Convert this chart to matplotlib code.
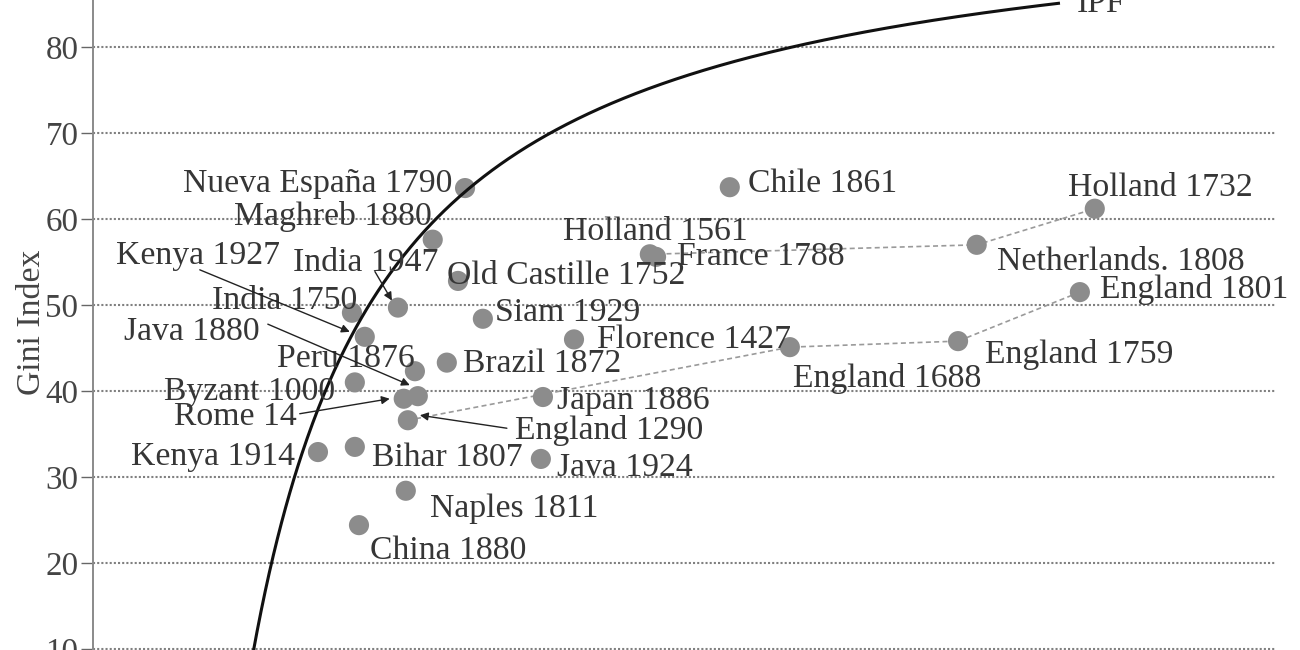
import numpy as np
import matplotlib
matplotlib.use("Agg")
import matplotlib.pyplot as plt
from matplotlib.transforms import Affine2D

# ---------------- data ----------------
labels = [
    "Nueva España 1790", "Maghreb 1880", "Chile 1861", "Holland 1732",
    "Netherlands. 1808", "Holland 1561", "France 1788", "England 1801",
    "England 1759", "England 1688", "Florence 1427", "Old Castille 1752",
    "India 1947", "Siam 1929", "India 1750", "Kenya 1927", "Java 1880",
    "Peru 1876", "Byzant 1000", "Rome 14", "England 1290", "Brazil 1872",
    "Japan 1886", "Kenya 1914", "Bihar 1807", "Java 1924", "Naples 1811",
    "China 1880",
]
income = [844, 766, 1483, 2364, 2079, 1290, 1305, 2328, 2034, 1628, 1107, 827,
          682, 887, 571, 602, 730, 723, 578, 696, 706, 800, 1032, 489, 578,
          1027, 701, 588]
gini = [63.6, 57.6, 63.7, 61.2, 57.0, 55.9, 55.6, 51.5, 45.8, 45.1, 46.0, 52.8,
        49.7, 48.4, 49.1, 46.3, 39.4, 42.3, 41.0, 39.1, 36.6, 43.3, 39.3, 32.9,
        33.5, 32.1, 28.4, 24.4]

holland_path = ["Holland 1561", "Netherlands. 1808", "Holland 1732"]
england_path = ["England 1290", "England 1688", "England 1759", "England 1801"]

subsistence = 300      # IPF: max Gini = 100 * (1 - elite) * (1 - s / income)
elite_share = 0.02
ipf_end = 2280
ipf_label = "IPF"
yticks = [10, 20, 30, 40, 50, 60, 70, 80]
ylabel = "Gini Index"

# ---------------- layout (pixel offsets from each point) ----------------
label_layout = {
    "Nueva España 1790": (-13, 8, "right"),
    "Maghreb 1880": (-1, 27, "right"),
    "Chile 1861": (18, 7, "left"),
    "Holland 1732": (-27, 24, "left"),
    "Netherlands. 1808": (20, -13, "left"),
    "Holland 1561": (-87, 26, "left"),
    "France 1788": (21, 4, "left"),
    "England 1801": (20, 6, "left"),
    "England 1759": (27, -10, "left"),
    "England 1688": (3, -28, "left"),
    "Florence 1427": (23, 3, "left"),
    "Old Castille 1752": (-11, 9, "left"),
    "India 1947": (-105, 48, "left"),
    "Siam 1929": (12, 10, "left"),
    "India 1750": (5, 15, "right"),
    "Kenya 1927": (-85, 85, "right"),
    "Java 1880": (-158, 68, "right"),
    "Peru 1876": (0, 16, "right"),
    "Byzant 1000": (-20, -6, "right"),
    "Rome 14": (-107, -15, "right"),
    "England 1290": (107, -7, "left"),
    "Brazil 1872": (16, 2, "left"),
    "Japan 1886": (14, 0, "left"),
    "Kenya 1914": (-23, -1, "right"),
    "Bihar 1807": (17, -7, "left"),
    "Java 1924": (16, -5, "left"),
    "Naples 1811": (24, -15, "left"),
    "China 1880": (11, -22, "left"),
}
arrow_layout = {
    "India 1947": (-23, 36, -6, 7),
    "Kenya 1927": (-165, 67, -15, 5),
    "Java 1880": (-150, 72, -8, 11),
    "Rome 14": (-104, -15, -14, 0),
    "England 1290": (99, -8, 12, 5),
}

W, H, DPI = 1300, 650, 100
SERIF = ["Liberation Serif", "DejaVu Serif"]
FS = 24.3
TXT = "#363636"

fig = plt.figure(figsize=(W / DPI, H / DPI), dpi=DPI)
ax = fig.add_axes([93 / W, 0, (1275 - 93) / W, 1])

ax.set_xlim(-54, 2799)
ax.set_ylim(9.88, 85.47)

ax.set_yticks(yticks)
ax.set_xticks([])
ax.grid(axis="y", linestyle=(0, (1, 1)), color="#808080", lw=1.5, zorder=0)
for s in ["top", "right", "bottom"]:
    ax.spines[s].set_visible(False)
ax.spines["left"].set_linestyle((0, (1, 1)))
ax.spines["left"].set_color("#8a8a8a")
ax.spines["left"].set_linewidth(1.4)
ax.tick_params(axis="y", length=9, width=1.0, color="#666666", pad=1.5,
               labelsize=23.8, labelcolor="#444444")
for t in ax.get_yticklabels():
    t.set_family(SERIF)

ax.set_ylabel(ylabel, fontsize=FS, color="#444444", family=SERIF)
ax.yaxis.set_label_coords((32 - 93) / (1275 - 93), 1 - 322 / H)
ax.yaxis.label.set_va("center")

lookup = {lab: (x, g) for lab, x, g in zip(labels, income, gini)}

# connecting dashed paths
for path in (holland_path, england_path):
    xs = [lookup[p][0] for p in path]
    ys = [lookup[p][1] for p in path]
    ax.plot(xs, ys, linestyle=(0, (3, 2)), color="#9a9a9a", lw=1.2, zorder=2)

# points
ax.scatter(income, gini, s=210, color="#8c8c8c", edgecolors="none", zorder=3)

# IPF curve
xc = np.linspace(subsistence / 0.95, ipf_end, 600)
gc = 100 * (1 - elite_share) * (1 - subsistence / xc)
ax.plot(xc, gc, color="#111111", lw=2.2, zorder=4, solid_capstyle="butt")
ax.text(2321, 84.1, ipf_label, fontsize=FS, color=TXT, family=SERIF,
        ha="left", va="baseline", zorder=5)

# labels
for lab, x, g in zip(labels, income, gini):
    dx, dy, ha = label_layout[lab]
    ax.annotate(lab, xy=(x, g), xytext=(dx, dy), textcoords="offset pixels",
                ha=ha, va="center_baseline", fontsize=FS, color=TXT,
                family=SERIF, zorder=5)

# arrows
for lab, (sx, sy, ex, ey) in arrow_layout.items():
    x, g = lookup[lab]
    tr_s = ax.transData + Affine2D().translate(sx, sy)
    tr_e = ax.transData + Affine2D().translate(ex, ey)
    ax.annotate("", xy=(x, g), xycoords=tr_e, xytext=(x, g), textcoords=tr_s,
                arrowprops=dict(arrowstyle="-|>", color="#222222", lw=1.0,
                                shrinkA=0, shrinkB=0, mutation_scale=12),
                zorder=6)

fig.savefig("out.png", dpi=DPI)
